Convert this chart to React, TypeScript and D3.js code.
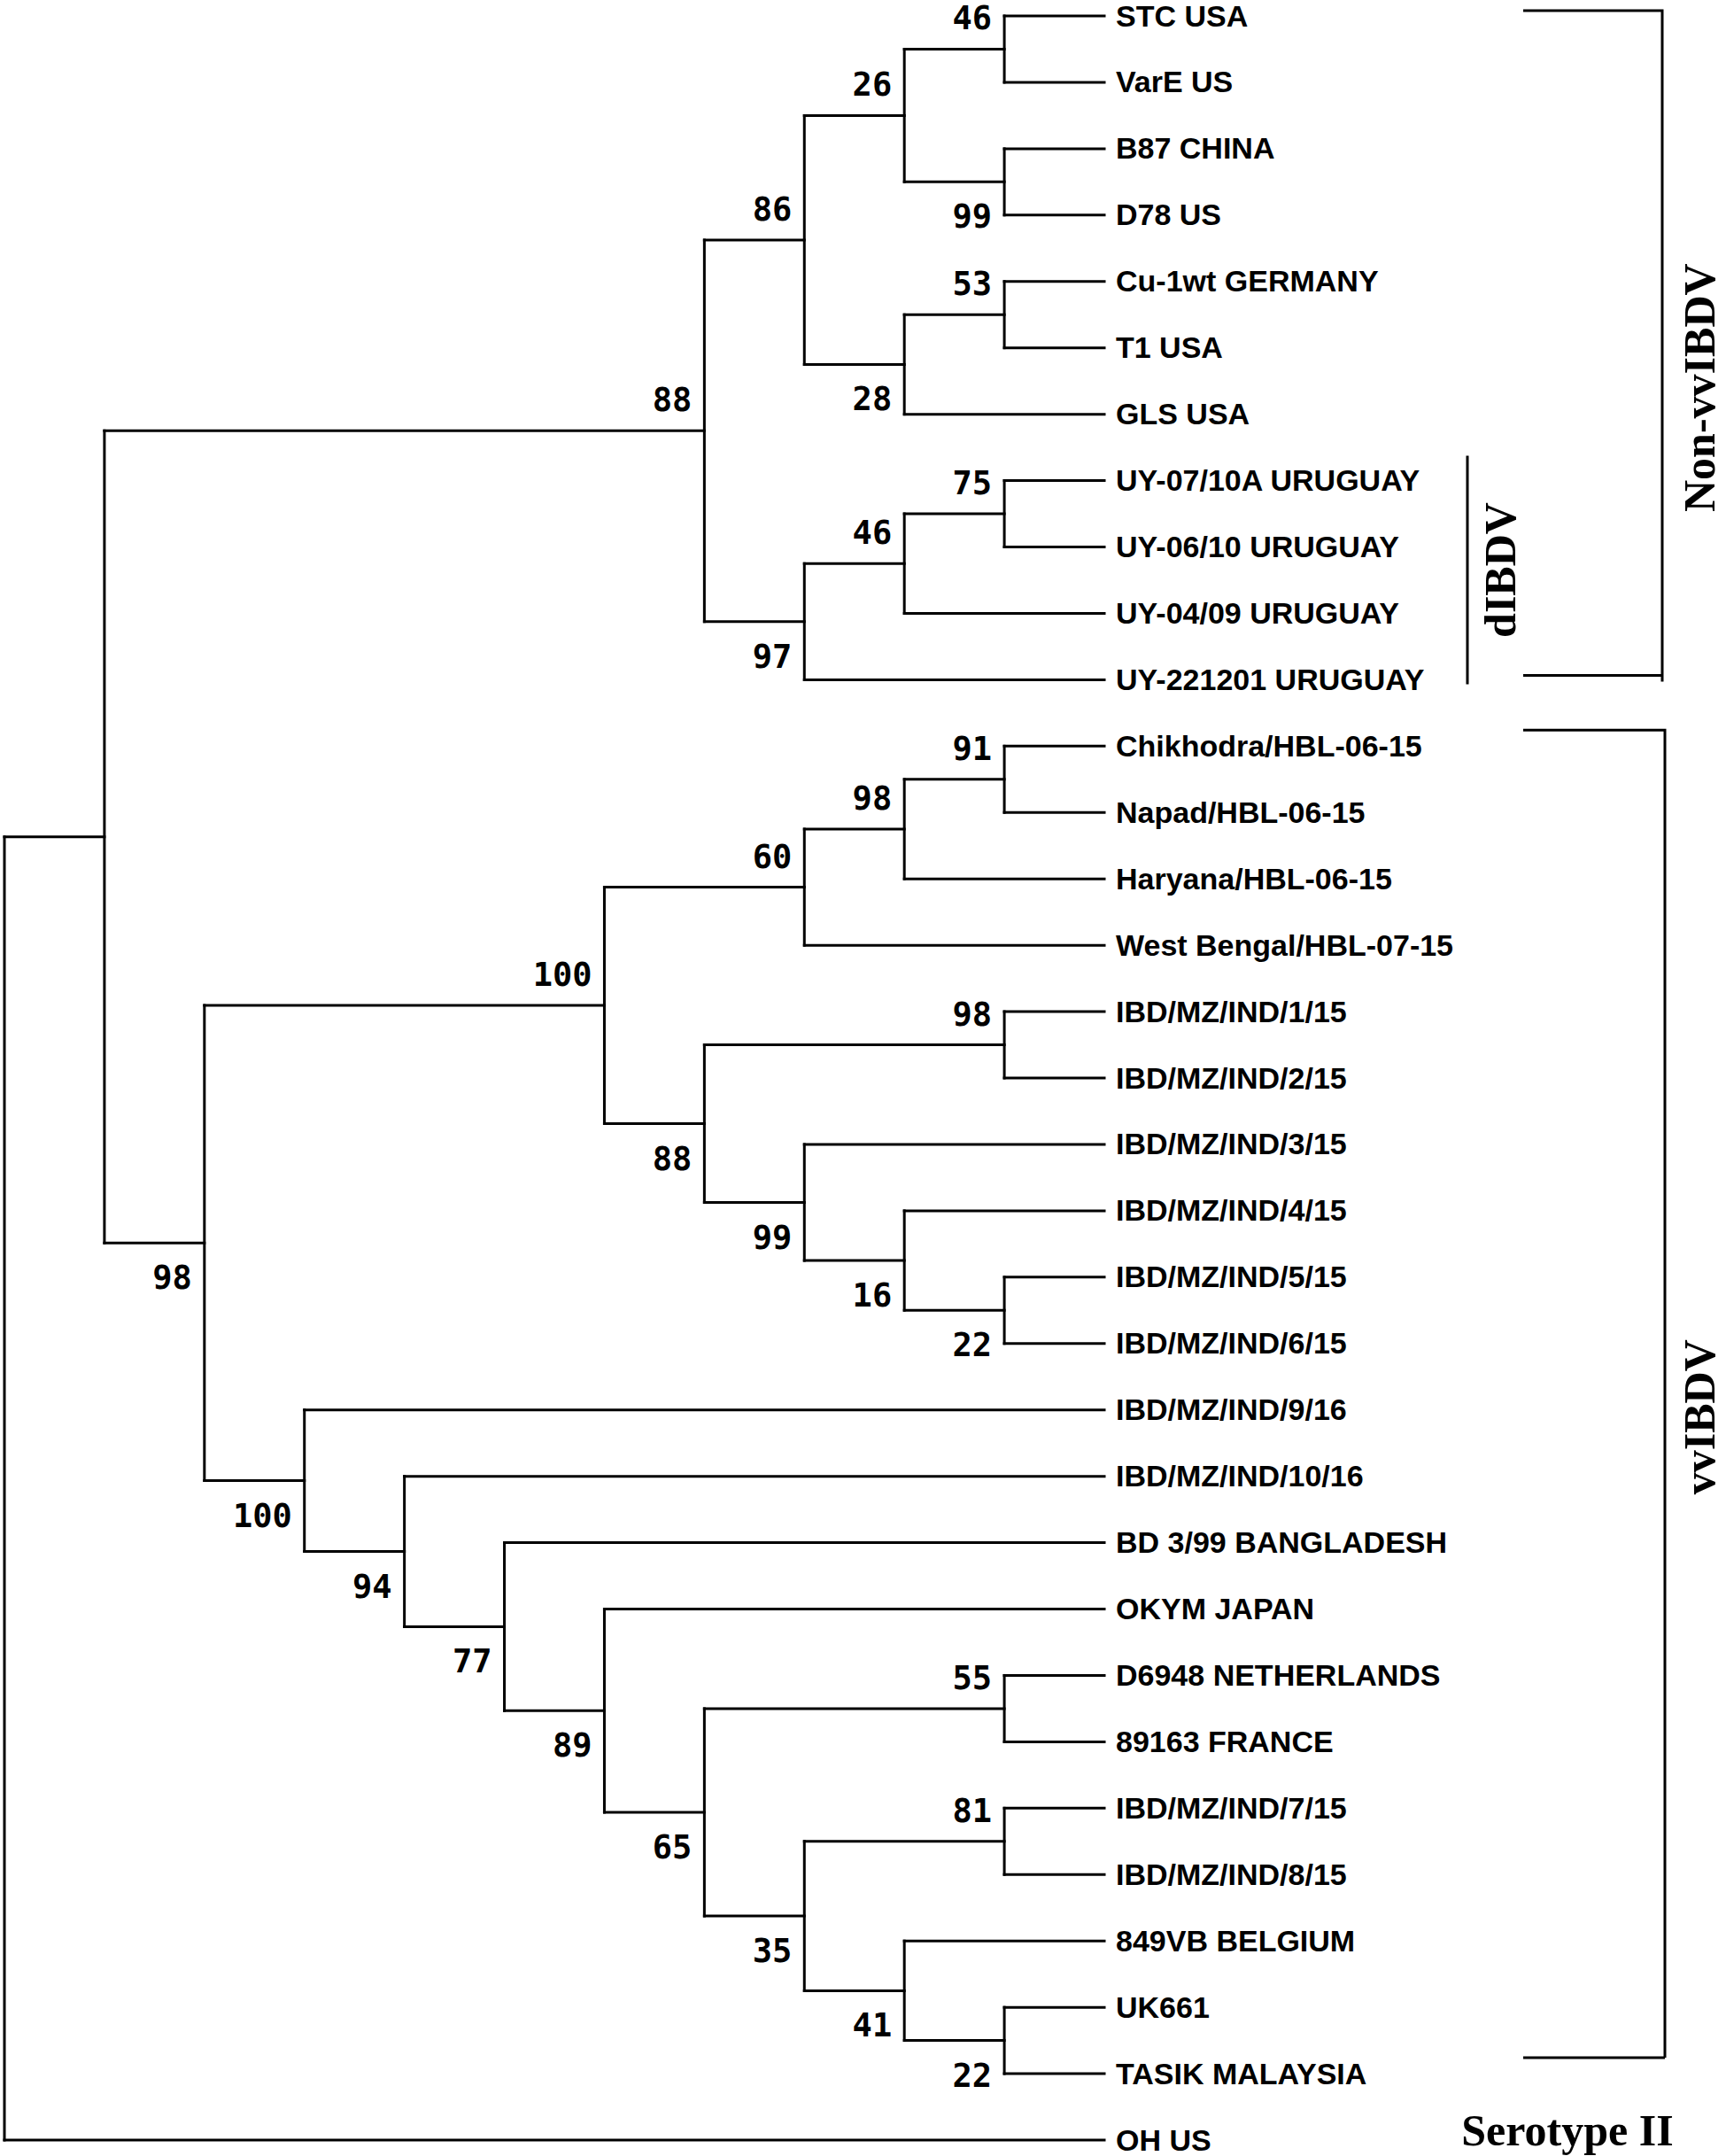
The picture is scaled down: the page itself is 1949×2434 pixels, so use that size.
import React, { useMemo } from "react";
import * as d3 from "d3";

// ---------- DATA ----------
const leafNames: string[] = [
  "STC USA", "VarE US", "B87 CHINA", "D78 US", "Cu-1wt GERMANY", "T1 USA", "GLS USA",
  "UY-07/10A URUGUAY", "UY-06/10 URUGUAY", "UY-04/09 URUGUAY", "UY-221201 URUGUAY",
  "Chikhodra/HBL-06-15", "Napad/HBL-06-15", "Haryana/HBL-06-15", "West Bengal/HBL-07-15",
  "IBD/MZ/IND/1/15", "IBD/MZ/IND/2/15", "IBD/MZ/IND/3/15", "IBD/MZ/IND/4/15",
  "IBD/MZ/IND/5/15", "IBD/MZ/IND/6/15", "IBD/MZ/IND/9/16", "IBD/MZ/IND/10/16",
  "BD 3/99 BANGLADESH", "OKYM JAPAN", "D6948 NETHERLANDS", "89163 FRANCE",
  "IBD/MZ/IND/7/15", "IBD/MZ/IND/8/15", "849VB BELGIUM", "UK661", "TASIK MALAYSIA", "OH US",
];

// Topology (leaf indices) with bootstrap support after each clade
const nonVvClade = "((((0,1)46,(2,3)99)26,((4,5)53,6)28)86,(((7,8)75,9)46,10)97)88";
const vvUpperClade = "((((11,12)91,13)98,14)60,((15,16)98,(17,(18,(19,20)22)16)99)88)100";
const vvLowerClade = "(21,(22,(23,(24,((25,26)55,((27,28)81,(29,(30,31)22)41)35)65)89)77)94)100";
const newick = `((${nonVvClade},(${vvUpperClade},${vvLowerClade})98),32)`;

// Group annotations (leaf index ranges)
const bracketGroups = [
  { label: "Non-vvIBDV", from: 0, to: 10 },
  { label: "vvIBDV", from: 11, to: 31 },
];
const barGroups = [{ label: "dIBDV", from: 7, to: 10 }];
const outgroupLabel = { label: "Serotype II", leaf: 32 };

// ---------- PARSER ----------
type TNode = { children?: TNode[]; leaf?: number; support?: number | null };
function parseNewick(s: string): TNode {
  let i = 0;
  function readNum(): string {
    let t = "";
    while (i < s.length && /[0-9]/.test(s[i])) t += s[i++];
    return t;
  }
  function node(): TNode {
    if (s[i] === "(") {
      i++;
      const children = [node()];
      while (s[i] === ",") {
        i++;
        children.push(node());
      }
      i++; // ')'
      const lab = readNum();
      return { children, support: lab ? +lab : null };
    }
    return { leaf: +readNum() };
  }
  return node();
}

const W = 1949;
const H = 2434;

export default function App() {
  const nLeaves = leafNames.length;
  const root = useMemo(() => {
    const h = d3.hierarchy<TNode>(parseNewick(newick), (d) => d.children);
    d3.cluster<TNode>().size([nLeaves, 1]).separation(() => 1)(h);
    return h;
  }, []);

  const xs = d3.scaleLinear().domain([0, 1]).range([5, 1247]); // depth
  const ys = d3.scaleLinear().domain([0.5, nLeaves - 0.5]).range([18, 2416]); // leaf order
  const X = (n: any) => xs(n.y);
  const Y = (n: any) => ys(n.x);

  const nodes = root.descendants();
  const leaves = root.leaves();
  const leafY = (idx: number) => Y(leaves.find((l) => l.data.leaf === idx));

  const stroke = "#000";
  const sw = 3;
  const labelFont = "'Liberation Sans', Arial, sans-serif";
  const bootFont = "'DejaVu Sans Mono', 'Liberation Mono', monospace";
  const serif = "'Liberation Serif', 'Times New Roman', serif";

  return (
    <svg
      width={W}
      height={H}
      viewBox={`0 0 ${W} ${H}`}
      style={{ position: "absolute", left: 0, top: 0, background: "#fff" }}
    >
      <rect width={W} height={H} fill="#fff" />
      {/* branches */}
      <g fill="none" stroke={stroke} strokeWidth={sw} strokeLinecap="square">
        {nodes
          .filter((n) => n.parent)
          .map((n, i) => (
            <path key={"h" + i} d={`M${X(n.parent)},${Y(n)}H${X(n)}`} />
          ))}
        {nodes
          .filter((n) => n.children)
          .map((n, i) => {
            const c = n.children!;
            return <path key={"v" + i} d={`M${X(n)},${Y(c[0])}V${Y(c[c.length - 1])}`} />;
          })}
      </g>

      {/* bootstrap values */}
      <g fontFamily={bootFont} fontWeight="bold" fontSize={37} fill="#000" textAnchor="end">
        {nodes
          .filter((n) => n.children && n.data.support != null)
          .map((n, i) => {
            const first = n.parent && n.parent.children![0] === n;
            return (
              <text key={"b" + i} x={X(n) - 14} y={Y(n) + (first ? -22 : 52)}>
                {n.data.support}
              </text>
            );
          })}
      </g>

      {/* leaf labels */}
      <g fontFamily={labelFont} fontWeight="bold" fontSize={34} fill="#000">
        {leaves.map((l, i) => (
          <text key={"l" + i} x={X(l) + 13} y={Y(l)} dy="0.34em">
            {leafNames[l.data.leaf!]}
          </text>
        ))}
      </g>

      {/* brackets */}
      <g fill="none" stroke={stroke} strokeWidth={3}>
        {bracketGroups.map((g, i) => {
          const y0 = leafY(g.from) - (i === 0 ? 6 : 18);
          const y1 = leafY(g.to) - (i === 0 ? 5 : 18);
          const xv = i === 0 ? 1877 : 1880;
          return (
            <path
              key={"br" + i}
              d={`M1720,${y0}H${xv}V${y1 + (i === 0 ? 7 : 0)}M1720,${y1}H${xv}`}
            />
          );
        })}
        {barGroups.map((g, i) => (
          <path key={"bar" + i} d={`M1657,${leafY(g.from) - 28}V${leafY(g.to) + 5}`} />
        ))}
      </g>

      {/* group labels */}
      <g fontFamily={serif} fontWeight="bold" fontSize={50} fill="#000" textAnchor="middle">
        <text transform={`translate(1936,${(leafY(0) + leafY(10)) / 2 + 45}) rotate(-90)`}>
          {bracketGroups[0].label}
        </text>
        <text transform={`translate(1936,${(leafY(11) + leafY(31)) / 2 + 8}) rotate(-90)`}>
          {bracketGroups[1].label}
        </text>
        <text
          transform={`translate(1711,${(leafY(barGroups[0].from) - 28 + leafY(barGroups[0].to) + 5) / 2}) rotate(-90)`}
        >
          {barGroups[0].label}
        </text>
        <text x={1770} y={leafY(outgroupLabel.leaf) + 6}>
          {outgroupLabel.label}
        </text>
      </g>
    </svg>
  );
}
